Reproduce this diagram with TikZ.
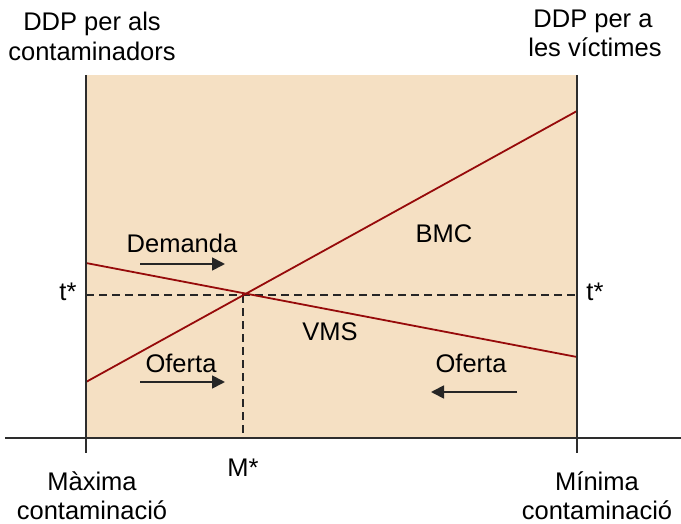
\documentclass[tikz,border=0pt]{standalone}
\usepackage{fontspec}
\setmainfont{Liberation Sans}
\usetikzlibrary{arrows.meta}
\definecolor{paper}{RGB}{245,224,195}
\definecolor{curve}{RGB}{150,10,10}
\definecolor{axis}{RGB}{45,45,45}
\tikzset{
  lbl/.style={font=\fontsize{25.5}{30}\selectfont, inner sep=0pt, anchor=base, align=center},
  axisline/.style={draw=axis, line width=2pt},
  costline/.style={draw=curve, line width=1.8pt},
  guide/.style={draw=black!85, line width=1.6pt, dash pattern=on 8pt off 5pt},
  movearrow/.style={draw=black!85, line width=1.8pt, -{Triangle[length=13pt,width=13pt]}}
}
\begin{document}
\begin{tikzpicture}[x=1pt, y=-1pt]
  \useasboundingbox (0,0) rectangle (681,524);
  % shaded band between the two vertical axes
  \fill[paper] (86,75) rectangle (577,438);

  % corner points of the axes
  \coordinate (lTop) at (86,75);
  \coordinate (lBot) at (86,453);
  \coordinate (rTop) at (577,75);
  \coordinate (rBot) at (577,453);
  \coordinate (hL) at (5,438);
  \coordinate (hR) at (681,438);

  % cost curves
  \coordinate (bmcL) at (86,382);
  \coordinate (bmcR) at (577,111);
  \coordinate (vmsL) at (86,263);
  \coordinate (vmsR) at (577,357);
  \coordinate (eq) at (243,295);
  \coordinate (tL) at (86,295);
  \coordinate (tR) at (577,295);
  \coordinate (mB) at (243,438);

  % equilibrium guides
  \draw[guide] (tL) -- (tR);
  \draw[guide] (eq) -- (mB);

  \draw[costline] (bmcL) -- (bmcR);
  \draw[costline] (vmsL) -- (vmsR);

  % axes
  \draw[axisline] (hL) -- (hR);
  \draw[axisline] (lTop) -- (lBot);
  \draw[axisline] (rTop) -- (rBot);

  % direction arrows
  \coordinate (dA) at (140,264);
  \coordinate (dB) at (225,264);
  \coordinate (oA) at (140,382);
  \coordinate (oB) at (225,382);
  \coordinate (pA) at (517,392);
  \coordinate (pB) at (431,392);
  \draw[movearrow] (dA) -- (dB);
  \draw[movearrow] (oA) -- (oB);
  \draw[movearrow] (pA) -- (pB);

  % labels
  \node[lbl] (topL1) at (92,31) {DDP per als};
  \node[lbl] (topL2) at (92,61) {contaminadors};
  \node[lbl] (topR1) at (593,28) {DDP per a};
  \node[lbl] (topR2) at (595,57) {les víctimes};
  \node[lbl] (botL1) at (92,490) {Màxima};
  \node[lbl] (botL2) at (92,519) {contaminació};
  \node[lbl] (botR1) at (597,490) {Mínima};
  \node[lbl] (botR2) at (597,519) {contaminació};
  \node[lbl] (mstar) at (243,476) {M*};
  \node[lbl] (tstarL) at (68,301) {t*};
  \node[lbl] (tstarR) at (595,301) {t*};
  \node[lbl] (bmc) at (444,243) {BMC};
  \node[lbl] (vms) at (330,340) {VMS};
  \node[lbl] (dem) at (182,253) {Demanda};
  \node[lbl] (ofL) at (181,372) {Oferta};
  \node[lbl] (ofR) at (471,372) {Oferta};
\end{tikzpicture}
\end{document}
